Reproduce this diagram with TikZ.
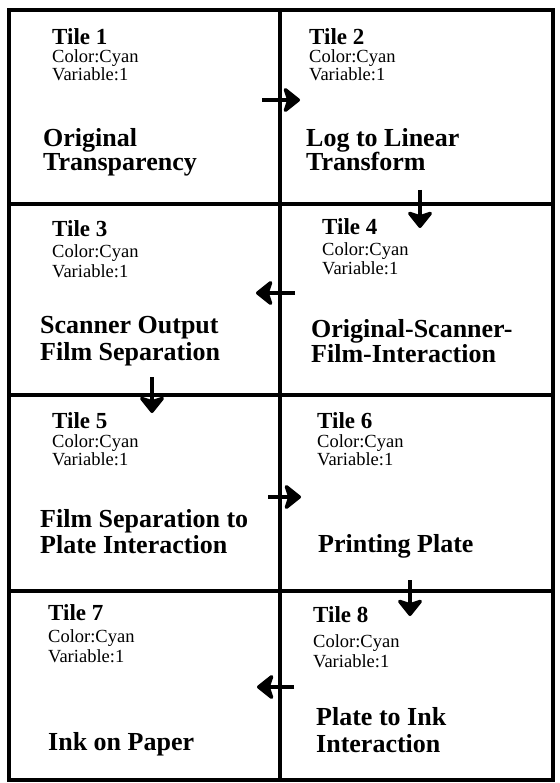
\documentclass[tikz,border=0pt]{standalone}
\usepackage{fontspec}
\setmainfont{Liberation Serif}
\usetikzlibrary{arrows.meta}
\begin{document}
\begin{tikzpicture}[x=1pt, y=-1pt,
  tilebox/.style={draw, line width=4pt, shape=rectangle, inner sep=0pt},
  tilehead/.style={anchor=base west, inner sep=0pt, font=\fontsize{23}{23}\selectfont\bfseries},
  tileinfo/.style={anchor=base west, inner sep=0pt, font=\fontsize{18.5}{18.5}\selectfont},
  tiletitle/.style={anchor=base west, inner sep=0pt, font=\fontsize{26}{26}\selectfont\bfseries},
  flow/.style={line width=4.5pt, -{Stealth[length=19pt, width=30pt, inset=5pt, round]}}]
  \useasboundingbox (0,0) rectangle (559,783);

  % Tiles
  \node[tilebox, minimum width=271pt, minimum height=194pt] (tile1) at (144.5,107) {};
  \node[tilebox, minimum width=273pt, minimum height=194pt] (tile2) at (416.5,107) {};
  \node[tilebox, minimum width=271pt, minimum height=191pt] (tile3) at (144.5,299.5) {};
  \node[tilebox, minimum width=273pt, minimum height=191pt] (tile4) at (416.5,299.5) {};
  \node[tilebox, minimum width=271pt, minimum height=196pt] (tile5) at (144.5,493) {};
  \node[tilebox, minimum width=273pt, minimum height=196pt] (tile6) at (416.5,493) {};
  \node[tilebox, minimum width=271pt, minimum height=189pt] (tile7) at (144.5,685.5) {};
  \node[tilebox, minimum width=273pt, minimum height=189pt] (tile8) at (416.5,685.5) {};

  % Headers
  \foreach \n/\x/\ya/\yb/\yc in {1/52/45/63/81, 2/309/45/63/81, 3/52/237/258/277,
      4/322/235/256/274, 5/52/428/447/465, 6/317/428/447/465,
      7/48/620/642/662, 8/313/622/647/667} {
    \node[tilehead] (head\n) at (\x,\ya) {Tile \n};
    \node[tileinfo] (color\n) at (\x,\yb) {Color:Cyan};
    \node[tileinfo] (var\n) at (\x,\yc) {Variable:1};
  }

  % Titles
  \node[tiletitle] (title1a) at (43,147) {Original};
  \node[tiletitle] (title1b) at (43,171) {Transparency};
  \node[tiletitle] (title2a) at (306,147) {Log to Linear};
  \node[tiletitle] (title2b) at (306,171) {Transform};
  \node[tiletitle] (title3a) at (40,333) {Scanner Output};
  \node[tiletitle] (title3b) at (40,360) {Film Separation};
  \node[tiletitle] (title4a) at (311,337) {Original-Scanner-};
  \node[tiletitle] (title4b) at (311,362) {Film-Interaction};
  \node[tiletitle] (title5a) at (40,527) {Film Separation to};
  \node[tiletitle] (title5b) at (40,553) {Plate Interaction};
  \node[tiletitle] (title6a) at (318,552) {Printing Plate};
  \node[tiletitle] (title7a) at (48,750) {Ink on Paper};
  \node[tiletitle] (title8a) at (316,725) {Plate to Ink};
  \node[tiletitle] (title8b) at (316,752) {Interaction};

  % Flow
  \coordinate (f12s) at (262,100);  \coordinate (f12e) at (300,100);
  \coordinate (f24s) at (420,190);  \coordinate (f24e) at (420,228);
  \coordinate (f43s) at (295,293);  \coordinate (f43e) at (256,293);
  \coordinate (f35s) at (152,377);  \coordinate (f35e) at (152,413);
  \coordinate (f56s) at (268,497);  \coordinate (f56e) at (301,497);
  \coordinate (f68s) at (410,580);  \coordinate (f68e) at (410,616);
  \coordinate (f87s) at (294,687);  \coordinate (f87e) at (257,687);

  \draw[flow] (f12s) -- (f12e);
  \draw[flow] (f24s) -- (f24e);
  \draw[flow] (f43s) -- (f43e);
  \draw[flow] (f35s) -- (f35e);
  \draw[flow] (f56s) -- (f56e);
  \draw[flow] (f68s) -- (f68e);
  \draw[flow] (f87s) -- (f87e);
\end{tikzpicture}
\end{document}
